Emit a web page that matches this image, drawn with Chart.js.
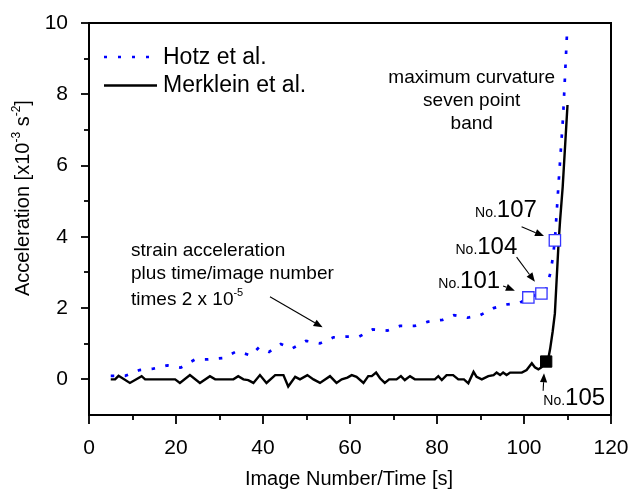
<!DOCTYPE html>
<html><head><meta charset="utf-8">
<script src="https://cdn.jsdelivr.net/npm/chart.js@4"></script>
<style>html,body{margin:0;padding:0;background:#fff}</style>
</head><body>
<canvas id="c" width="631" height="492"></canvas>
<script>
// ---- data ----
const hotzX = [5, 8.3, 11.6, 14.8, 18, 21.1, 24.4, 27.4, 30.8, 34, 37.2, 39.1, 41.4, 44.1, 46.6, 49.9, 53.1, 56.2, 59, 62.1, 65.2, 68.6, 71.5, 74.9, 78, 81.3, 83.9, 87, 89.9, 93, 96, 99.1, 101, 104, 105.1, 106.1, 106.6, 107.1, 108, 109, 109.9];
const hotzY = [0.1, 0.1, 0.26, 0.3, 0.39, 0.33, 0.56, 0.56, 0.6, 0.79, 0.67, 0.9, 0.77, 0.99, 0.86, 1.08, 1.01, 1.18, 1.2, 1.2, 1.4, 1.37, 1.5, 1.5, 1.62, 1.67, 1.8, 1.73, 1.8, 2.0, 2.1, 2.15, 2.3, 2.41, 2.55, 3.0, 3.4, 3.9, 5.6, 7.4, 9.75];
const merkX = [5, 6, 6.8, 9.4, 12.1, 12.9, 19.8, 20.9, 23.2, 25.5, 27.8, 29, 33.2, 34.3, 35.5, 36.6, 37.8, 39.3, 40.8, 42.8, 44.7, 45.8, 47.4, 48.5, 50.2, 51.6, 53.1, 55.4, 56.9, 58.1, 59.4, 60.4, 61.5, 63.1, 64.2, 65, 66, 66.9, 68, 69, 70.7, 71.7, 72.6, 73.8, 74.9, 79.5, 80.3, 81.1, 82.2, 83.7, 84.9, 86.2, 87.2, 88.4, 89.1, 90.3, 91.8, 93, 93.7, 94.5, 95.2, 96, 96.8, 97.9, 99.5, 100.6, 101.8, 102.5, 103.3, 104, 105.1, 105.6, 106, 106.6, 107.1, 107.5, 107.9, 108.3, 108.9, 110];
const merkY = [0, 0, 0.1, -0.1, 0.09, 0, 0, -0.1, 0.12, -0.1, 0.09, 0, 0, 0.09, 0, -0.02, -0.1, 0.12, -0.1, 0.12, 0.12, -0.2, 0.07, 0, 0.12, 0, -0.1, 0.09, -0.1, 0, 0.05, 0.12, 0.07, -0.1, 0.09, 0.09, 0.19, 0.03, -0.1, 0, 0, 0.09, -0.02, 0.09, 0, 0, 0.09, -0.02, 0.12, 0.12, 0, 0, -0.11, 0.21, 0.07, 0, 0.09, 0.12, 0.19, 0.12, 0.19, 0.12, 0.19, 0.19, 0.19, 0.26, 0.45, 0.34, 0.28, 0.34, 0.5, 0.59, 0.85, 1.35, 1.85, 2.79, 3.72, 4.47, 5.41, 7.7];
const hotzMarkX = [101, 104, 107.1];
const hotzMarkY = [2.3, 2.41, 3.9];
const hotzMarkLabels = ['101', '104', '107'];
const merkMarkX = [105.1];
const merkMarkY = [0.5];
const merkMarkLabels = ['105'];
const seriesNames = ['Hotz et al.', 'Merklein et al.'];
const xMajorTicks = [0, 20, 40, 60, 80, 100, 120];
const yMajorTicks = [0, 2, 4, 6, 8, 10];
const xTitle = 'Image Number/Time [s]';
const noteCurvature = ['maximum curvature', 'seven point', 'band'];
const noteStrain = ['strain acceleration', 'plus time/image number', 'times 2 x 10'];

const FONT = "'Liberation Sans', Arial, Helvetica, sans-serif";
const pts = (xs, ys) => xs.map((x, i) => ({x, y: ys[i]}));

function arrow(ctx, x1, y1, x2, y2) {
  const a = Math.atan2(y2 - y1, x2 - x1), L = 9, W = 3.6;
  ctx.beginPath(); ctx.moveTo(x1, y1);
  ctx.lineTo(x2 - L * Math.cos(a), y2 - L * Math.sin(a));
  ctx.lineWidth = 1.1; ctx.strokeStyle = '#000'; ctx.stroke();
  ctx.beginPath(); ctx.moveTo(x2, y2);
  ctx.lineTo(x2 - L * Math.cos(a) + W * Math.sin(a), y2 - L * Math.sin(a) - W * Math.cos(a));
  ctx.lineTo(x2 - L * Math.cos(a) - W * Math.sin(a), y2 - L * Math.sin(a) + W * Math.cos(a));
  ctx.closePath(); ctx.fillStyle = '#000'; ctx.fill();
}
function rich(ctx, x, y, parts) {
  let cx = x;
  for (const p of parts) {
    ctx.font = p.size + 'px ' + FONT;
    ctx.fillText(p.t, cx, y - (p.rise || 0));
    cx += ctx.measureText(p.t).width;
  }
}

const decor = {
  id: 'decor',
  afterDraw(chart) {
    const ctx = chart.ctx, xs = chart.scales.x, ys = chart.scales.y, A = chart.chartArea;
    const X = v => xs.getPixelForValue(v), Y = v => ys.getPixelForValue(v);
    ctx.save();
    // frame top/right
    ctx.strokeStyle = '#000'; ctx.lineWidth = 2;
    ctx.beginPath(); ctx.moveTo(A.left - 1, A.top); ctx.lineTo(A.right, A.top); ctx.lineTo(A.right, A.bottom + 1); ctx.stroke();
    // ticks
    ctx.lineWidth = 1.8;
    for (let v = 0; v <= 120; v += 10) {
      const p = Math.round(X(v)), len = xMajorTicks.includes(v) ? 9 : 5;
      ctx.beginPath(); ctx.moveTo(p, A.bottom); ctx.lineTo(p, A.bottom + len); ctx.stroke();
    }
    for (let v = 0; v <= 10; v += 1) {
      const p = Math.round(Y(v)), len = yMajorTicks.includes(v) ? 8 : 5;
      ctx.beginPath(); ctx.moveTo(A.left, p); ctx.lineTo(A.left - len, p); ctx.stroke();
    }
    ctx.fillStyle = '#000'; ctx.textBaseline = 'alphabetic';
    // x title
    ctx.font = '20px ' + FONT; ctx.textAlign = 'center';
    ctx.fillText(xTitle, (A.left + A.right) / 2 - 1, 484.5);
    // y title
    ctx.save(); ctx.translate(28.5, 296); ctx.rotate(-Math.PI / 2); ctx.textAlign = 'left';
    rich(ctx, 0, 0, [{t: 'Acceleration [x10', size: 20}, {t: '-3', size: 12, rise: 9}, {t: ' s', size: 20}, {t: '-2', size: 12, rise: 9}, {t: ']', size: 20}]);
    ctx.restore();
    // legend
    ctx.textAlign = 'left';
    ctx.beginPath(); ctx.setLineDash([3, 11]); ctx.strokeStyle = '#0000ff'; ctx.lineWidth = 2.4;
    ctx.moveTo(A.left + 15, 57); ctx.lineTo(A.left + 67, 57); ctx.stroke(); ctx.setLineDash([]);
    ctx.beginPath(); ctx.strokeStyle = '#000'; ctx.lineWidth = 2.5;
    ctx.moveTo(A.left + 15, 85.5); ctx.lineTo(A.left + 68, 85.5); ctx.stroke();
    ctx.font = '23px ' + FONT; ctx.textBaseline = 'middle';
    ctx.fillText(seriesNames[0], A.left + 74, 58);
    ctx.fillText(seriesNames[1], A.left + 74, 86);
    ctx.textBaseline = 'alphabetic';
    // curvature note
    ctx.font = '19px ' + FONT; ctx.textAlign = 'center';
    const curvY = [8.33, 7.67, 7.02];
    noteCurvature.forEach((t, i) => ctx.fillText(t, X(87.98), Y(curvY[i])));
    // strain note
    ctx.textAlign = 'left';
    const strY = [3.46, 2.81, 2.09];
    ctx.font = '19px ' + FONT;
    ctx.fillText(noteStrain[0], X(9.66), Y(strY[0]));
    ctx.fillText(noteStrain[1], X(9.66), Y(strY[1]));
    rich(ctx, X(9.66), Y(strY[2]), [{t: noteStrain[2], size: 19}, {t: '-5', size: 11, rise: 9}]);
    arrow(ctx, X(41.6), Y(2.32), X(53.7), Y(1.46));
    // No. labels
    const labPos = [[80.3, 2.56], [84.25, 3.52], [88.74, 4.55]];
    hotzMarkLabels.forEach((t, i) => rich(ctx, X(labPos[i][0]), Y(labPos[i][1]), [{t: 'No.', size: 14}, {t: t, size: 24}]));
    rich(ctx, X(104.44), Y(-0.72), [{t: 'No.', size: 14}, {t: merkMarkLabels[0], size: 24}]);
    arrow(ctx, X(95.2), Y(2.62), X(97.9), Y(2.49));
    arrow(ctx, X(98.3), Y(3.43), X(102.5), Y(2.74));
    arrow(ctx, X(99.45), Y(4.28), X(104.6), Y(4.02));
    arrow(ctx, X(104.4), Y(-0.32), X(104.6), Y(0.17));
    ctx.restore();
  }
};

new Chart(document.getElementById('c'), {
  type: 'scatter',
  data: {
    datasets: [
      {label: 'hotz markers', data: pts(hotzMarkX, hotzMarkY), showLine: false, pointStyle: 'rect', pointRadius: 8,
       pointBackgroundColor: '#ffffff', pointBorderColor: '#3434ff', pointBorderWidth: 1.3},
      {label: 'merklein marker', data: pts(merkMarkX, merkMarkY), showLine: false, pointStyle: 'rect', pointRadius: 8,
       pointBackgroundColor: '#000', pointBorderColor: '#000', pointBorderWidth: 1},
      {label: seriesNames[0], data: pts(hotzX, hotzY), showLine: true, borderColor: '#0000ff', borderWidth: 2.7,
       borderDash: [3.5, 10.5], borderCapStyle: 'butt', pointRadius: 0, tension: 0},
      {label: seriesNames[1], data: pts(merkX, merkY), showLine: true, borderColor: '#000', borderWidth: 2.4,
       borderJoinStyle: 'miter', pointRadius: 0, tension: 0}
    ]
  },
  options: {
    responsive: false, animation: false, devicePixelRatio: 1,
    layout: {padding: {left: 0, right: 20, top: 23, bottom: 0}},
    plugins: {legend: {display: false}, tooltip: {enabled: false}},
    scales: {
      x: {type: 'linear', min: 0, max: 120,
          afterFit(s) { s.height = 77; s.paddingLeft = 0; s.paddingRight = 0; },
          ticks: {stepSize: 10, autoSkip: false, maxRotation: 0, padding: 13, color: '#000',
                  font: {family: FONT, size: 21},
                  callback: v => xMajorTicks.includes(v) ? String(v) : ''},
          grid: {display: false}, border: {display: true, color: '#000', width: 2}},
      y: {type: 'linear', min: -1, max: 10,
          afterFit(s) { s.width = 89; s.paddingTop = 0; s.paddingBottom = 0; },
          ticks: {stepSize: 1, autoSkip: false, padding: 13, color: '#000',
                  font: {family: FONT, size: 21},
                  callback: v => yMajorTicks.includes(v) ? String(v) : ''},
          grid: {display: false}, border: {display: true, color: '#000', width: 2}}
    }
  },
  plugins: [decor]
});
</script>
</body></html>
